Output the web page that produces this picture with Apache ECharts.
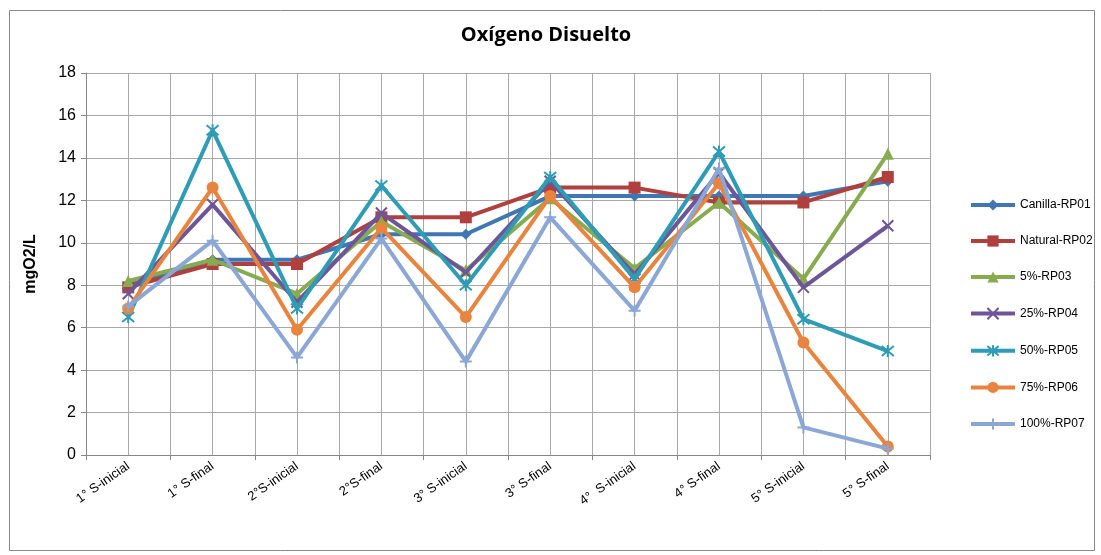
<!DOCTYPE html>
<html><head><meta charset="utf-8">
<script src="https://cdn.jsdelivr.net/npm/echarts@6/dist/echarts.min.js"></script>
<style>html,body{margin:0;padding:0;background:#fff}#c{width:1101px;height:555px}</style>
</head><body><div id="c"></div>
<script>
const categories = ["1° S-inicial","1° S-final","2°S-inicial","2°S-final","3° S-inicial","3° S-final","4°  S-inicial","4° S-final","5° S-inicial","5° S-final"];
const canilla  = [8.0, 9.2, 9.2, 10.4, 10.4, 12.2, 12.2, 12.2, 12.2, 12.9];
const natural  = [7.9, 9.0, 9.0, 11.2, 11.2, 12.6, 12.6, 11.9, 11.9, 13.1];
const p5       = [8.2, 9.2, 7.6, 11.0, 8.7, 12.1, 8.8, 11.9, 8.3, 14.2];
const p25      = [7.6, 11.8, 7.2, 11.4, 8.6, 12.9, 8.5, 13.3, 7.9, 10.8];
const p50      = [6.5, 15.3, 6.9, 12.7, 8.0, 13.1, 8.3, 14.3, 6.4, 4.9];
const p75      = [6.9, 12.6, 5.9, 10.7, 6.5, 12.2, 7.9, 12.8, 5.3, 0.4];
const p100     = [7.0, 10.1, 4.6, 10.2, 4.4, 11.2, 6.8, 13.5, 1.3, 0.3];
const seriesNames = ["Canilla-RP01","Natural-RP02","5%-RP03","25%-RP04","50%-RP05","75%-RP06","100%-RP07"];
const yTicks = [0,2,4,6,8,10,12,14,16,18];

const colors = ["#3F77B5","#B0403E","#87AC4F","#6E559A","#2E9CB4","#E8843D","#8AA7D5"];
const xPath = 'path://M0,0L10,10M10,0L0,10';
const astPath = 'path://M0,0L10,10M10,0L0,10M5,-1L5,11';
const plusPath = 'path://M5,0L5,10M0,5L10,5';
const symbols = ['diamond','rect','triangle', xPath, astPath, 'circle', plusPath];
const sizes = [11, 12, 12, 11, 12, 12, 12];
const data = [canilla, natural, p5, p25, p50, p75, p100];

const chart = echarts.init(document.getElementById('c'), null, {renderer:'canvas'});
const series = data.map((d,i)=>({
  name: seriesNames[i],
  type: 'line',
  data: d,
  xAxisIndex: 0,
  symbol: symbols[i],
  symbolSize: sizes[i],
  showAllSymbol: true,
  lineStyle: {width: 4, color: colors[i]},
  itemStyle: {color: colors[i], borderColor: colors[i], borderWidth: (i===3||i===4||i===6)?2:0},
  z: 3 + i
}));
chart.setOption({
  animation: false,
  backgroundColor: '#fff',
  title: {text: 'Oxígeno Disuelto', left: 541, top: 20, textAlign: 'center',
    textStyle: {fontFamily: 'Open Sans, Liberation Sans, sans-serif', fontSize: 20, fontWeight: 'bold', color: '#000'}},
  grid: {left: 86, right: 171, top: 73, bottom: 100},
  legend: {orient: 'vertical', left: 964, top: 194, itemGap: 24, itemWidth: 44, itemHeight: 14,
    lineStyle: {width: 4}, padding: 5,
    textStyle: {fontFamily: 'Liberation Sans, Arial, sans-serif', fontSize: 12, color: '#000'},
    data: seriesNames},
  xAxis: [{
    type: 'category', data: categories, boundaryGap: true,
    axisLine: {lineStyle: {color: '#868686', width: 1}},
    axisTick: {show: true, length: 5, lineStyle: {color: '#868686'}},
    splitLine: {show: false},
    axisLabel: {rotate: 35, color: '#000', fontSize: 13, fontFamily: 'Liberation Sans, Arial, sans-serif', margin: 10, interval: 0}
  },{
    type: 'value', min: 0, max: 10, interval: 0.5, position: 'bottom',
    axisLine: {show: false}, axisTick: {show: false}, axisLabel: {show: false},
    splitLine: {show: true, lineStyle: {color: '#A8A8A8', width: 1}}
  }],
  yAxis: {
    type: 'value', min: 0, max: 18, interval: 2,
    name: 'mgO2/L', nameLocation: 'middle', nameGap: 47,
    nameTextStyle: {fontFamily: 'Liberation Sans, Arial, sans-serif', fontSize: 16, fontWeight: 'bold', color: '#000'},
    axisLine: {show: true, lineStyle: {color: '#868686'}},
    axisTick: {show: true, length: 5, lineStyle: {color: '#868686'}},
    axisLabel: {color: '#000', fontSize: 16, fontFamily: 'Liberation Sans, Arial, sans-serif', margin: 10,
      formatter: v => yTicks.includes(v) ? String(v) : ''},
    splitLine: {show: true, lineStyle: {color: '#A8A8A8', width: 1}}
  },
  graphic: [{type: 'rect', left: 7, top: 8, shape: {width: 1085, height: 540},
    style: {fill: 'none', stroke: '#888', lineWidth: 1}, silent: true, z: -1}],
  series: series
});
</script></body></html>
